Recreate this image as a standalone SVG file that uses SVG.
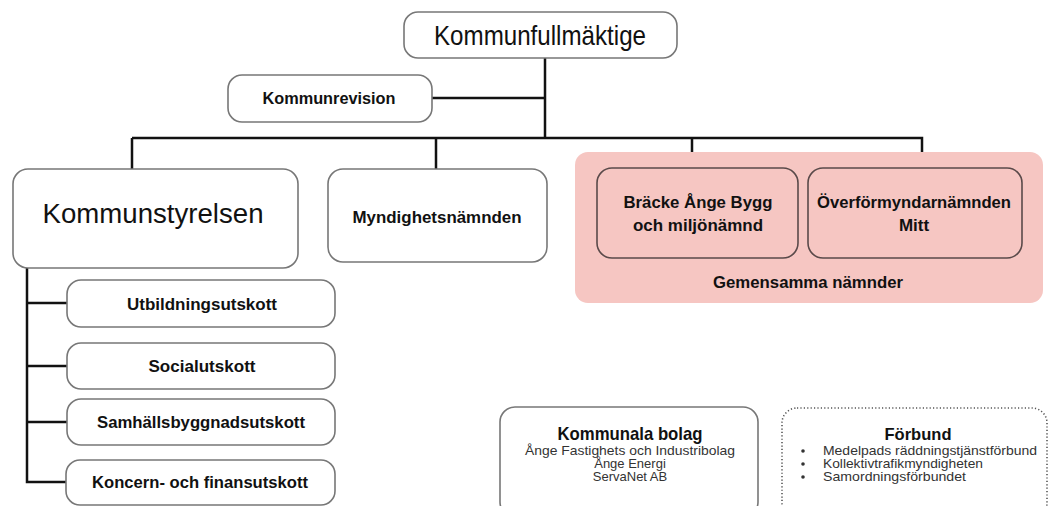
<svg xmlns="http://www.w3.org/2000/svg" width="1051" height="506" viewBox="0 0 1051 506">
<style>
text{font-family:"Liberation Sans",Arial,sans-serif;fill:#111;text-anchor:middle}
.b{font-weight:bold;font-size:17px}
.s{font-size:13px;fill:#333}
.box{fill:#fff;stroke:#777;stroke-width:1.6}
.inner{fill:none;stroke:#5a4a4a;stroke-width:1.6}
.ln{fill:none;stroke:#111;stroke-width:2.5}
</style>
<rect width="1051" height="506" fill="#fff"/>
<g id="connectors">
<path class="ln" d="M545 58V138M432 98H545M132 138H922V169M132 138V169M436 138V169M692 138V169"/>
<path class="ln" d="M27 268V482H67M27 303H67M27 366H67M27 422H67"/>
</g>
<g id="kommunfullmaktige">
<rect class="box" x="404" y="12" width="273" height="46" rx="14"/>
<text x="540" y="45" font-size="28" textLength="212" lengthAdjust="spacingAndGlyphs">Kommunfullmäktige</text>
</g>
<g id="kommunrevision">
<rect class="box" x="228" y="75" width="204" height="47" rx="14"/>
<text class="b" x="329" y="104" textLength="133" lengthAdjust="spacingAndGlyphs">Kommunrevision</text>
</g>
<g id="kommunstyrelsen">
<rect class="box" x="13" y="169" width="285" height="99" rx="15"/>
<text x="153" y="223" font-size="27.5" textLength="221" lengthAdjust="spacingAndGlyphs">Kommunstyrelsen</text>
</g>
<g id="myndighetsnamnden">
<rect class="box" x="328" y="169" width="219" height="93" rx="15"/>
<text class="b" x="437" y="223" textLength="169" lengthAdjust="spacingAndGlyphs">Myndighetsnämnden</text>
</g>
<g id="gemensamma">
<rect x="575" y="152" width="468" height="151" rx="13" fill="#f6c6c2"/>
<text class="b" x="808" y="288" textLength="190" lengthAdjust="spacingAndGlyphs">Gemensamma nämnder</text>
</g>
<g id="bracke">
<rect class="inner" x="597" y="168" width="201" height="90" rx="15"/>
<text class="b" x="698" y="208" textLength="149" lengthAdjust="spacingAndGlyphs">Bräcke Ånge Bygg</text>
<text class="b" x="698" y="231" textLength="130" lengthAdjust="spacingAndGlyphs">och miljönämnd</text>
</g>
<g id="overformyndar">
<rect class="inner" x="808" y="168" width="214" height="90" rx="15"/>
<text class="b" x="914" y="208" textLength="194" lengthAdjust="spacingAndGlyphs">Överförmyndarnämnden</text>
<text class="b" x="914" y="231">Mitt</text>
</g>
<g id="utbildningsutskott">
<rect class="box" x="67" y="280" width="268" height="47" rx="14"/>
<text class="b" x="202" y="310" textLength="150" lengthAdjust="spacingAndGlyphs">Utbildningsutskott</text>
</g>
<g id="socialutskott">
<rect class="box" x="67" y="343" width="268" height="46" rx="14"/>
<text class="b" x="202" y="372" textLength="107" lengthAdjust="spacingAndGlyphs">Socialutskott</text>
</g>
<g id="samhallsbyggnadsutskott">
<rect class="box" x="67" y="399" width="268" height="46" rx="14"/>
<text class="b" x="201" y="428" textLength="208" lengthAdjust="spacingAndGlyphs">Samhällsbyggnadsutskott</text>
</g>
<g id="koncern">
<rect class="box" x="66" y="460" width="269" height="45" rx="14"/>
<text class="b" x="200" y="488" textLength="216" lengthAdjust="spacingAndGlyphs">Koncern- och finansutskott</text>
</g>
<g id="kommunala-bolag">
<rect class="box" x="500" y="407" width="258" height="110" rx="15"/>
<text x="630" y="440" font-weight="bold" font-size="19" textLength="145" lengthAdjust="spacingAndGlyphs">Kommunala bolag</text>
<text class="s" x="630" y="455" textLength="210" lengthAdjust="spacingAndGlyphs">Ånge Fastighets och Industribolag</text>
<text class="s" x="630" y="468">Ånge Energi</text>
<text class="s" x="630" y="481">ServaNet AB</text>
</g>
<g id="forbund">
<rect x="782" y="408" width="265" height="110" rx="15" fill="#fff" stroke="#555" stroke-width="1.6" stroke-dasharray="1.2 2.2"/>
<text x="918" y="440" font-weight="bold" font-size="17" textLength="67" lengthAdjust="spacingAndGlyphs">Förbund</text>
<g style="text-anchor:start">
<circle cx="803" cy="451" r="1.8" fill="#333"/>
<circle cx="803" cy="464" r="1.8" fill="#333"/>
<circle cx="803" cy="477" r="1.8" fill="#333"/>
<text class="s" x="823" y="455" style="text-anchor:start" textLength="214" lengthAdjust="spacingAndGlyphs">Medelpads räddningstjänstförbund</text>
<text class="s" x="823" y="468" style="text-anchor:start" textLength="160" lengthAdjust="spacingAndGlyphs">Kollektivtrafikmyndigheten</text>
<text class="s" x="823" y="481" style="text-anchor:start" textLength="143" lengthAdjust="spacingAndGlyphs">Samordningsförbundet</text>
</g>
</g>
</svg>
